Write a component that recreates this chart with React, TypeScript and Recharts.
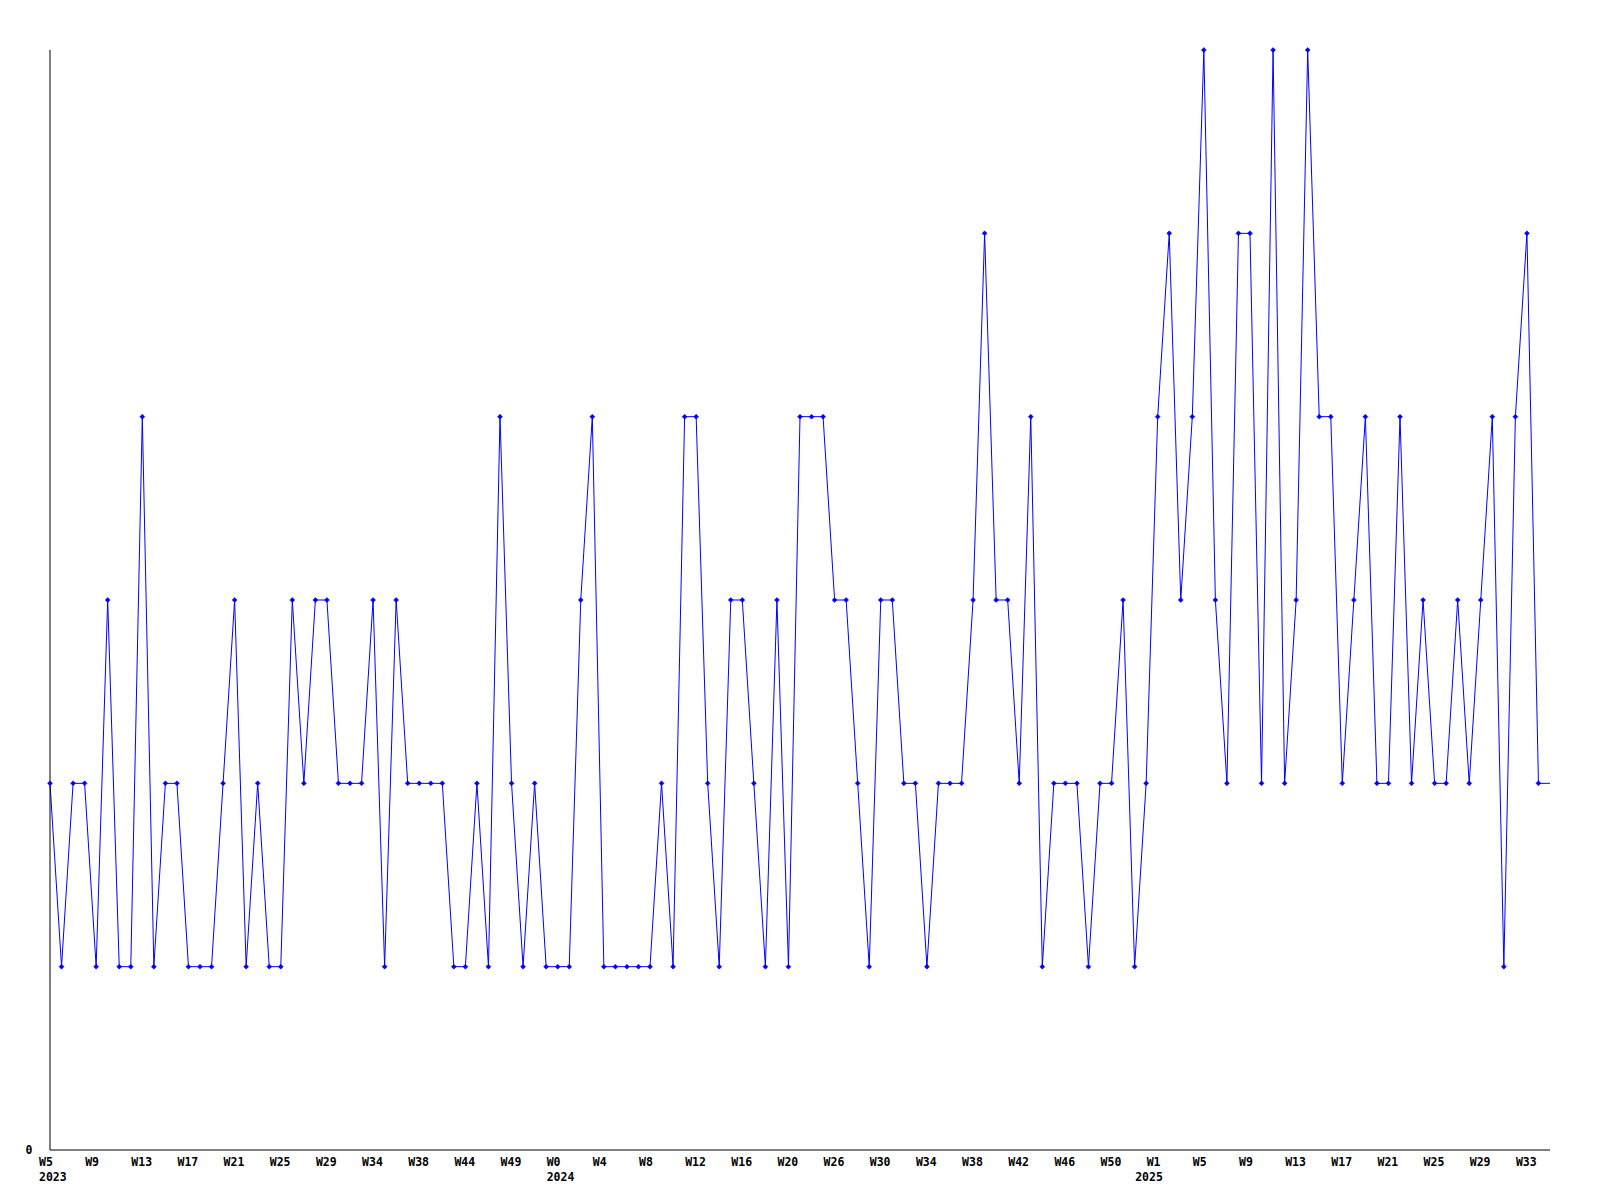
import { LineChart, Line, XAxis, YAxis } from 'recharts'

// ISO-ish week numbers present in the data, per year
const weeks2023 = [
  5, 6, 7, 8, 9, 10, 11, 12, 13, 14, 15, 16, 17, 18, 19, 20, 21, 22, 23, 24, 25, 26, 27, 28, 29, 30, 31,
  33, 34, 35, 36, 37, 38, 39, 41, 43, 44, 45, 46, 47, 49, 50, 51, 52,
]
const weeks2024 = [
  0, 1, 2, 3, 4, 5, 6, 7, 8, 9, 10, 11, 12, 13, 14, 15, 16, 17, 18, 19, 20, 21, 22, 24,
  26, 27, 28, 29, 30, 31, 32, 33, 34, 35, 36, 37, 38, 39, 40, 41, 42, 43, 44, 45, 46, 47, 48, 49, 50, 51, 52,
]
const weeks2025 = [
  0, 1, 2, 3, 4, 5, 6, 7, 8, 9, 10, 11, 12, 13, 14, 15, 16, 17, 18, 19, 20, 21, 22, 23, 24, 25, 26, 27,
  28, 29, 30, 31, 32, 33, 34, 35,
]

const counts = [
  2, 1, 2, 2, 1, 3, 1, 1, 4, 1,
  2, 2, 1, 1, 1, 2, 3, 1, 2, 1,
  1, 3, 2, 3, 3, 2, 2, 2, 3, 1,
  3, 2, 2, 2, 2, 1, 1, 2, 1, 4,
  2, 1, 2, 1, 1, 1, 3, 4, 1, 1,
  1, 1, 1, 2, 1, 4, 4, 2, 1, 3,
  3, 2, 1, 3, 1, 4, 4, 4, 3, 3,
  2, 1, 3, 3, 2, 2, 1, 2, 2, 2,
  3, 5, 3, 3, 2, 4, 1, 2, 2, 2,
  1, 2, 2, 3, 1, 2, 4, 5, 3, 4,
  6, 3, 2, 5, 5, 2, 6, 2, 3, 6,
  4, 4, 2, 3, 4, 2, 2, 4, 2, 3,
  2, 2, 3, 2, 3, 4, 1, 4, 5, 2,
  2,
]

const yTicks = [0]

const periods = [
  ...weeks2023.map((w) => ({ year: 2023, week: w })),
  ...weeks2024.map((w) => ({ year: 2024, week: w })),
  ...weeks2025.map((w) => ({ year: 2025, week: w })),
]

const data = periods.map((p, i) => ({
  label: `W${p.week}`,
  year: p.year,
  value: counts[i],
}))

const FONT = '"DejaVu Sans Mono", "Liberation Mono", monospace'

function WeekTick(props: any) {
  const { x, y, payload } = props
  const i = payload.index ?? props.index
  const showWeek = i % 4 === 0
  const showYear = i === 0 || data[i].year !== data[i - 1].year
  return (
    <g>
      {showWeek && (
        <text x={x - 11} y={y + 16} textAnchor="start" fontFamily={FONT} fontWeight="bold" fontSize={11.5} fill="#000">
          {payload.value}
        </text>
      )}
      {showYear && (
        <text x={x - 11} y={y + 31} textAnchor="start" fontFamily={FONT} fontWeight="bold" fontSize={11.5} fill="#000">
          {data[i].year}
        </text>
      )}
    </g>
  )
}

function ValueTick(props: any) {
  const { x, y, payload } = props
  return (
    <text x={x - 24.5} y={y + 4} textAnchor="start" fontFamily={FONT} fontWeight="bold" fontSize={11.5} fill="#000">
      {payload.value}
    </text>
  )
}

function Diamond(props: any) {
  const { cx, cy, index } = props
  if (index === data.length - 1 || cx == null || cy == null) return <g key={`d-${index}`} />
  return (
    <path
      key={`d-${index}`}
      d={`M${cx},${cy - 2.5} L${cx + 2.5},${cy} L${cx},${cy + 2.5} L${cx - 2.5},${cy} Z`}
      fill="#0000ff"
      stroke="#0000ff"
      strokeWidth={0.5}
    />
  )
}

export default function App() {
  return (
    <div style={{ position: 'absolute', left: 0, top: 0, width: 1600, height: 1200, background: '#fff' }}>
      <LineChart width={1600} height={1200} data={data} margin={{ top: 50, right: 50, bottom: 0, left: 0 }}>
        <XAxis
          dataKey="label"
          height={50}
          interval={0}
          tickLine={false}
          tickSize={0}
          tickMargin={0}
          axisLine={{ stroke: '#000', strokeWidth: 1 }}
          tick={<WeekTick />}
        />
        <YAxis
          width={50}
          domain={[0, 6]}
          ticks={yTicks}
          tickLine={false}
          tickSize={0}
          tickMargin={0}
          axisLine={{ stroke: '#000', strokeWidth: 1 }}
          tick={<ValueTick />}
        />
        <Line
          type="linear"
          dataKey="value"
          stroke="#0000ff"
          strokeWidth={1}
          dot={<Diamond />}
          activeDot={false}
          isAnimationActive={false}
        />
      </LineChart>
    </div>
  )
}
